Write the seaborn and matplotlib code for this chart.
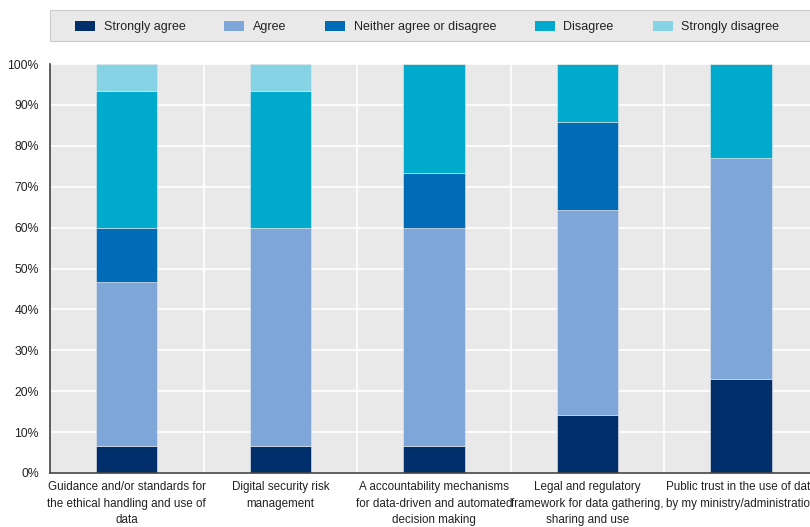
import pandas as pd
import numpy as np
import matplotlib.pyplot as plt
import seaborn as sns
from matplotlib.patches import Patch, Rectangle

categories = [
    "Guidance and/or standards for\nthe ethical handling and use of\ndata",
    "Digital security risk\nmanagement",
    "A accountability mechanisms\nfor data-driven and automated\ndecision making",
    "Legal and regulatory\nframework for data gathering,\nsharing and use",
    "Public trust in the use of data\nby my ministry/administration",
]
responses = ["Strongly agree", "Agree", "Neither agree or disagree", "Disagree", "Strongly disagree"]
strongly_agree = [6.67, 6.67, 6.67, 14.29, 23.08]
agree = [40.00, 53.33, 53.33, 50.00, 53.85]
neither = [13.33, 0.00, 13.33, 21.43, 0.00]
disagree = [33.33, 33.33, 26.67, 14.29, 23.08]
strongly_disagree = [6.67, 6.67, 0.00, 0.00, 0.00]
colors = ["#002f6c", "#7fa6d8", "#006bb6", "#00aacc", "#86d3e5"]

sns.set_style("white")
plt.rcParams['font.family'] = ['Liberation Sans', 'DejaVu Sans']

rows = []
for resp, vals in zip(responses, [strongly_agree, agree, neither, disagree, strongly_disagree]):
    for cat, v in zip(categories, vals):
        rows.append({"category": cat, "response": resp, "value": v})
df = pd.DataFrame(rows)
df["category"] = pd.Categorical(df["category"], categories=categories, ordered=True)

fig = plt.figure(figsize=(8.1, 5.27), dpi=100)
ax = fig.add_axes([0.0617, 0.1025, 0.948, 0.776])
ax.set_facecolor("#e9e9e9")

sns.histplot(data=df, x="category", hue="response", hue_order=responses[::-1],
             weights="value", multiple="stack", discrete=True, shrink=0.4,
             palette=dict(zip(responses, colors)), alpha=1, linewidth=0.4,
             edgecolor="#e9e9e9", legend=False, ax=ax)

ax.set_xlim(-0.5, len(categories) - 0.5)
ax.set_ylim(0, 100)
ax.set_yticks(np.arange(0, 101, 10))
ax.set_yticklabels([f"{t}%" for t in range(0, 101, 10)], fontsize=8.8, color="#222222")
ax.set_xticks(range(len(categories)))
ax.set_xticklabels(categories, fontsize=8.4, linespacing=1.5, color="#222222")
ax.set_xticks(np.arange(0.5, len(categories) - 0.5, 1), minor=True)
ax.tick_params(axis="x", which="major", length=0, pad=6)
ax.tick_params(axis="x", which="minor", length=4, direction="out", color="#444444")
ax.tick_params(axis="y", length=4, direction="out", color="#444444", pad=4)
ax.grid(axis="y", color="white", linewidth=1.2)
ax.grid(axis="x", which="minor", color="white", linewidth=1.2)
ax.set_axisbelow(True)
ax.set_xlabel("")
ax.set_ylabel("")
for side in ["top", "right"]:
    ax.spines[side].set_visible(False)
for side in ["left", "bottom"]:
    ax.spines[side].set_color("#444444")
    ax.spines[side].set_linewidth(1.2)

# legend box at the top
fig.patches.append(Rectangle((50 / 810, 1 - 41 / 527), 1.0, 31 / 527, transform=fig.transFigure,
                             facecolor="#e9e9e9", edgecolor="#cccccc", linewidth=0.8, zorder=0))
handles = [Patch(facecolor=c, edgecolor="none") for c in colors]
fig.legend(handles, responses, loc="center", bbox_to_anchor=(427 / 810, 1 - 27 / 527), ncol=5,
           frameon=False, fontsize=9, handlelength=1.6, handleheight=0.9, columnspacing=3.1,
           handletextpad=0.7, labelcolor="#222222")

plt.savefig("out.png", dpi=100)
